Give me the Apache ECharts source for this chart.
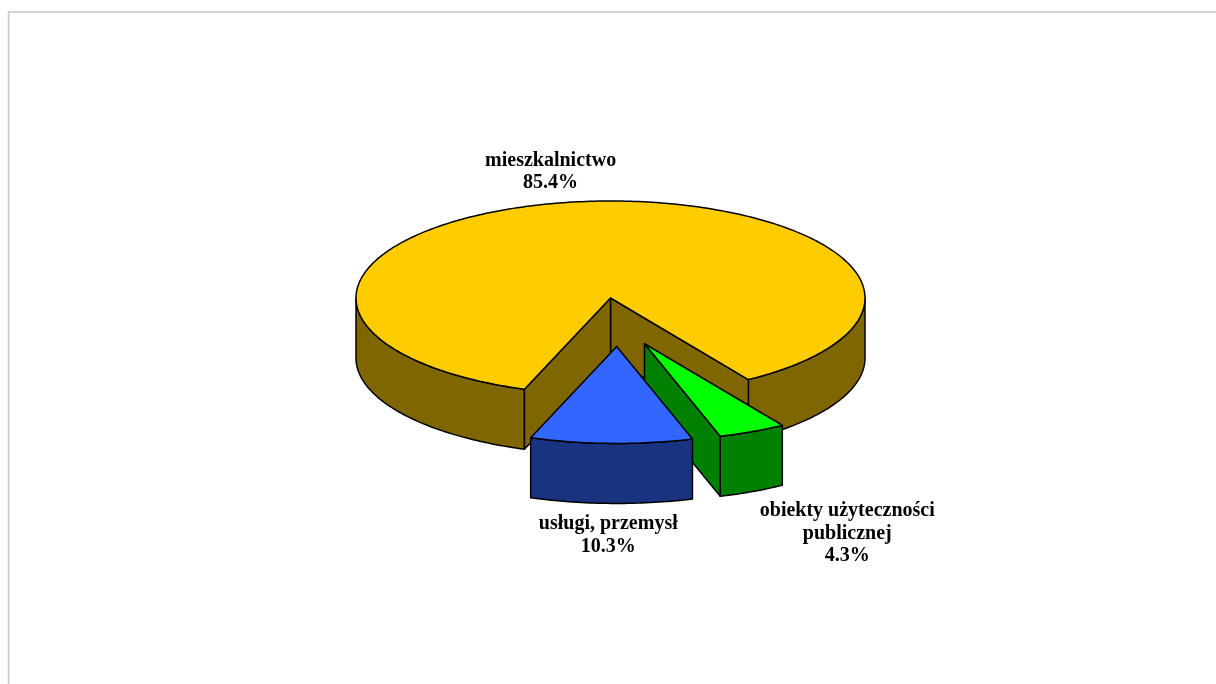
<!DOCTYPE html>
<html>
<head>
<meta charset="utf-8">
<script src="https://cdn.jsdelivr.net/npm/echarts@6/dist/echarts.min.js"></script>
<style>
  html, body { margin: 0; padding: 0; background: #ffffff; }
  #chart { width: 1216px; height: 684px; }
</style>
</head>
<body>
<div id="chart"></div>
<script>
// Structure of consumption by sector (percent)
const categories = ['mieszkalnictwo', 'usługi, przemysł', 'obiekty użyteczności\npublicznej'];
const shares = [85.4, 10.3, 4.3];

// Pseudo-3D pie geometry (pixels / degrees). Angle t is measured from the
// front (bottom) of the ellipse, increasing towards the right.
const PIE = { cx: 610.5, cy: 298, rx: 254.5, ry: 97, depth: 60, startAngle: 32.8 };

// Per-slice look: top face colour, side colour, explosion and label placement
const SLICE_LOOK = [
  { top: '#FFCC00', side: '#806600', explode: null, labelShift: [-31, -30] },
  { top: '#3366FF', side: '#1A3380', explode: { angle: 2.8, dist: 0.5 }, labelShift: [-3, 32] },
  { top: '#00FF00', side: '#008000', explode: { angle: 15.8, dist: 0.49 }, labelShift: [95, 42] }
];

const total = shares.reduce((a, b) => a + b, 0);
const spans = shares.map(v => v / total * 360);
const starts = spans.map((_, i) => PIE.startAngle + spans.slice(0, i).reduce((a, b) => a + b, 0));

const rad = d => d * Math.PI / 180;
function rim(cx, cy, t, dy) {
  return [cx + PIE.rx * Math.sin(rad(t)), cy + PIE.ry * Math.cos(rad(t)) + (dy || 0)];
}
function arcPoints(cx, cy, t1, t2, dy) {
  const pts = [];
  const n = Math.max(2, Math.ceil(Math.abs(t2 - t1) / 1));
  for (let k = 0; k <= n; k++) pts.push(rim(cx, cy, t1 + (t2 - t1) * k / n, dy));
  return pts;
}

const stroke = { stroke: '#000000', lineWidth: 1.5, lineJoin: 'round' };

function renderSlice(params, api) {
  const i = params.dataIndex;
  const look = SLICE_LOOK[i];
  const t1 = starts[i];
  const t2 = t1 + spans[i];
  const mid = (t1 + t2) / 2;
  let cx = PIE.cx, cy = PIE.cy;
  if (look.explode) {
    cx += look.explode.dist * PIE.rx * Math.sin(rad(look.explode.angle));
    cy += look.explode.dist * PIE.ry * Math.cos(rad(look.explode.angle));
  }
  const d = PIE.depth;
  const base = Math.round(Math.cos(rad(mid)) * 100) * 10;
  const children = [];

  // outer wall: only the front half of the rim is visible
  for (let k = -1; k <= 2; k++) {
    const lo = Math.max(t1, -90 + 360 * k);
    const hi = Math.min(t2, 90 + 360 * k);
    if (hi > lo) {
      const pts = arcPoints(cx, cy, lo, hi, 0).concat(arcPoints(cx, cy, hi, lo, d));
      children.push({ type: 'polygon', z2: base + 1, shape: { points: pts },
        style: Object.assign({ fill: look.side }, stroke) });
    }
  }
  // radial cut faces, drawn when they face the viewer
  const faceAt = t => {
    const e = rim(cx, cy, t, 0);
    return [[cx, cy], e, [e[0], e[1] + d], [cx, cy + d]];
  };
  if (Math.sin(rad(t1)) > 0) {
    children.push({ type: 'polygon', z2: base + 2, shape: { points: faceAt(t1) },
      style: Object.assign({ fill: look.side }, stroke) });
  }
  if (Math.sin(rad(t2)) < 0) {
    children.push({ type: 'polygon', z2: base + 2, shape: { points: faceAt(t2) },
      style: Object.assign({ fill: look.side }, stroke) });
  }
  // top face
  const topPts = [[cx, cy]].concat(arcPoints(cx, cy, t1, t2, 0));
  children.push({ type: 'polygon', z2: base + 3, shape: { points: topPts },
    style: Object.assign({ fill: look.top }, stroke) });

  // label: name and share, anchored at the slice's outer edge
  const front = Math.cos(rad(mid)) > 0;
  const anchor = rim(cx, cy, mid, front ? d : 0);
  children.push({
    type: 'text', z2: 5000,
    style: {
      text: categories[i] + '\n' + api.value(0).toFixed(1) + '%',
      x: anchor[0] + look.labelShift[0],
      y: anchor[1] + look.labelShift[1],
      align: 'center', verticalAlign: 'middle',
      fontFamily: '"Liberation Serif", "Times New Roman", serif',
      fontWeight: 'bold', fontSize: 20, lineHeight: 22.5, fill: '#000000'
    }
  });

  return { type: 'group', children: children };
}

const chart = echarts.init(document.getElementById('chart'), null, { renderer: 'canvas' });
chart.setOption({
  backgroundColor: '#ffffff',
  animation: false,
  graphic: [{
    type: 'rect', silent: true, z: -10,
    shape: { x: 8.5, y: 12, width: 1400, height: 900 },
    style: { fill: 'none', stroke: '#c4c4c4', lineWidth: 1.5 }
  }],
  series: [{
    type: 'custom',
    coordinateSystem: 'none',
    silent: true,
    data: shares.map(v => [v]),
    renderItem: renderSlice
  }]
});
</script>
</body>
</html>
